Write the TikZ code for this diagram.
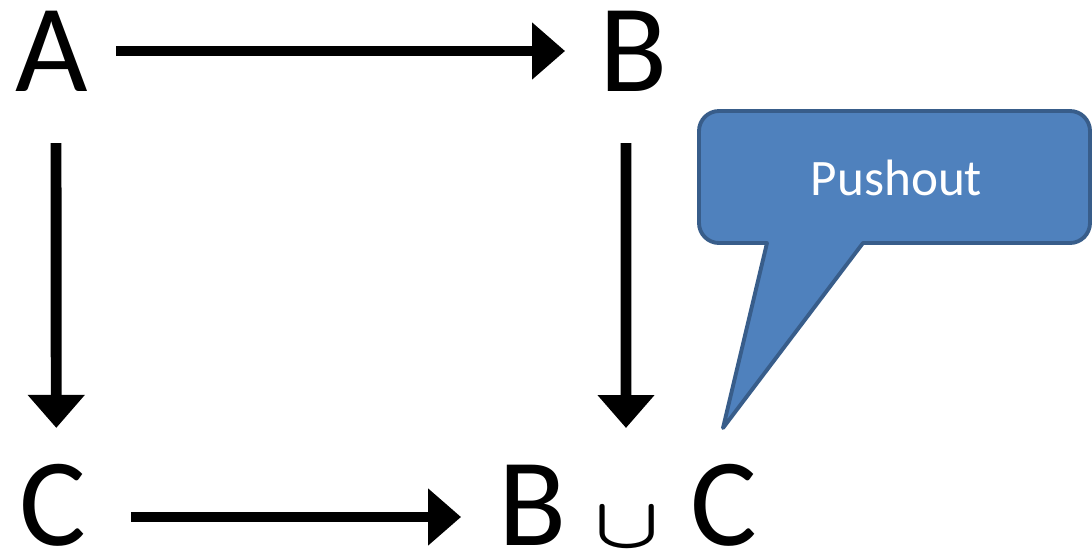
\documentclass[tikz,border=0pt]{standalone}
\usepackage{fontspec}
\setmainfont{Carlito}
\usetikzlibrary{arrows.meta}
\definecolor{calloutfill}{HTML}{4F81BD}
\definecolor{calloutline}{HTML}{385D8A}
\begin{document}
\begin{tikzpicture}[x=0.5669pt,y=-0.5669pt,
  obj/.style={inner sep=0pt,outer sep=0pt,font=\fontsize{71}{80}\selectfont},
  arr/.style={line width=6.2pt,-{Triangle[length=18.7pt,width=31.2pt]}},
  bubble/.style={fill=calloutfill,draw=calloutline,line width=2.2pt,line join=round}]
\useasboundingbox (0,0) rectangle (1092,550);

% objects of the square
\node[obj] (A) at (52,51) {A};
\node[obj] (B) at (633.5,51) {B};
\node[obj] (C) at (52.5,505) {C};
\node[obj] (bu) at (532.5,505) {B};
\node[inner sep=0pt] (cup) at (627,528) {\resizebox{37pt}{22.5pt}{\boldmath$\cup$}};
\node[obj] (cu) at (724,505) {C};

% morphisms
\draw[arr,shorten <=36.3pt,shorten >=38.8pt] (A.center) -- (B.center);
\draw[arr,shorten <=52.2pt,shorten >=43.7pt] ([xshift=2.2pt]A.center) -- ([xshift=2.2pt]C.center);
\draw[arr,shorten <=52.2pt,shorten >=56.7pt] ([xshift=-4.25pt]B.center) -- ([xshift=-0.57pt]cup.center);
\draw[arr,shorten <=44.5pt,shorten >=40.5pt] ([yshift=-6.8pt]C.center) -- ([yshift=-6.8pt]bu.center);

% speech bubble
\draw[bubble] (767,243) -- (723,428) -- (863,243) -- (1070,243)
  arc[start angle=90,end angle=0,radius=20] -- (1090,131)
  arc[start angle=0,end angle=-90,radius=20] -- (719,111)
  arc[start angle=-90,end angle=-180,radius=20] -- (699,223)
  arc[start angle=180,end angle=90,radius=20] -- cycle;
\node[anchor=base,inner sep=0pt,text=white,font=\fontsize{29}{34}\selectfont] (po) at (896.5,195) {Pushout};
\end{tikzpicture}
\end{document}
